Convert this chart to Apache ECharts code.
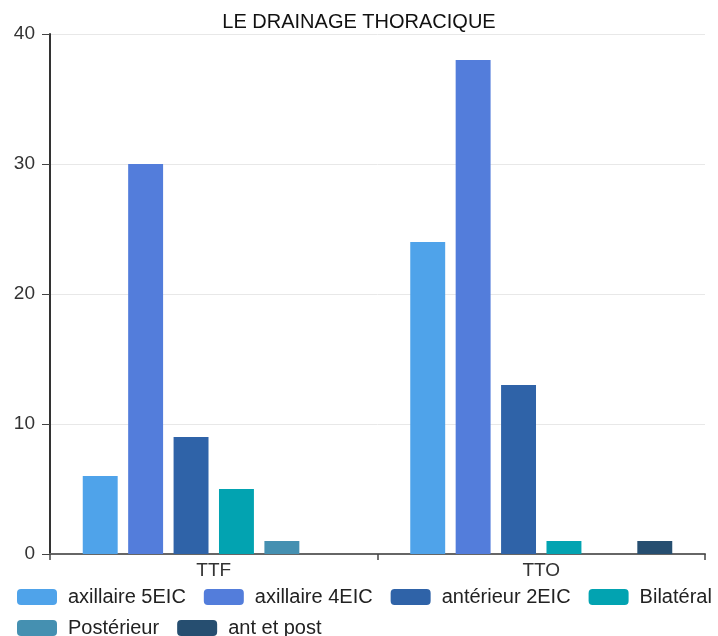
<!DOCTYPE html>
<html>
<head>
<meta charset="utf-8">
<script src="https://cdn.jsdelivr.net/npm/echarts@6/dist/echarts.min.js"></script>
<style>
  html, body { margin: 0; padding: 0; background: #fff; }
  #chart { width: 718px; height: 636px; }
</style>
</head>
<body>
<div id="chart"></div>
<script>
// Chest drain placement by procedure type
const categories = ['TTF', 'TTO'];
const seriesNames = ['axillaire 5EIC', 'axillaire 4EIC', 'antérieur 2EIC', 'Bilatéral', 'Postérieur', 'ant et post'];
const axillaire5 = [6, 24];
const axillaire4 = [30, 38];
const anterieur2 = [9, 13];
const bilateral = [5, 1];
const posterieur = [1, 0];
const antEtPost = [0, 1];
const yTicks = [0, 10, 20, 30, 40];

const values = [axillaire5, axillaire4, anterieur2, bilateral, posterieur, antEtPost];
const colors = ['#4fa3ea', '#537ddb', '#2f63a8', '#02a3b1', '#4590b1', '#264e70'];
const font = 'Liberation Sans, Arial, Helvetica, sans-serif';

const legendCommon = {
  left: 17,
  padding: 0,
  itemWidth: 40,
  itemHeight: 16,
  itemGap: 18,
  icon: 'roundRect',
  textStyle: { fontFamily: font, fontSize: 20, color: '#222', padding: [0, 0, 0, 6] }
};

const chart = echarts.init(document.getElementById('chart'));
chart.setOption({
  animation: false,
  textStyle: { fontFamily: font },
  title: {
    text: 'LE DRAINAGE THORACIQUE',
    left: 'center',
    top: 12,
    padding: 0,
    textStyle: { fontFamily: font, fontSize: 20, fontWeight: 'normal', color: '#111' }
  },
  legend: [
    Object.assign({}, legendCommon, { data: seriesNames.slice(0, 4), top: 587 }),
    Object.assign({}, legendCommon, { data: seriesNames.slice(4), top: 618 })
  ],
  grid: { left: 50, right: 13, top: 34, bottom: 82, containLabel: false },
  xAxis: {
    type: 'category',
    data: categories,
    axisLine: { lineStyle: { color: '#666', width: 2 } },
    axisTick: { show: true, length: 6, lineStyle: { color: '#444', width: 1.5 } },
    axisLabel: { fontFamily: font, fontSize: 19, color: '#333', margin: 7 }
  },
  yAxis: {
    type: 'value',
    min: yTicks[0],
    max: yTicks[yTicks.length - 1],
    interval: 10,
    axisLine: { show: true, lineStyle: { color: '#333', width: 2 } },
    axisTick: { show: true, length: 8, lineStyle: { color: '#444' } },
    axisLabel: { fontFamily: font, fontSize: 19, color: '#333', margin: 15 },
    splitLine: { lineStyle: { color: '#e8e8e8' } }
  },
  series: seriesNames.map((name, i) => ({
    name: name,
    type: 'bar',
    data: values[i],
    barGap: '30%',
    barCategoryGap: '20%',
    itemStyle: { color: colors[i] }
  }))
});
</script>
</body>
</html>
